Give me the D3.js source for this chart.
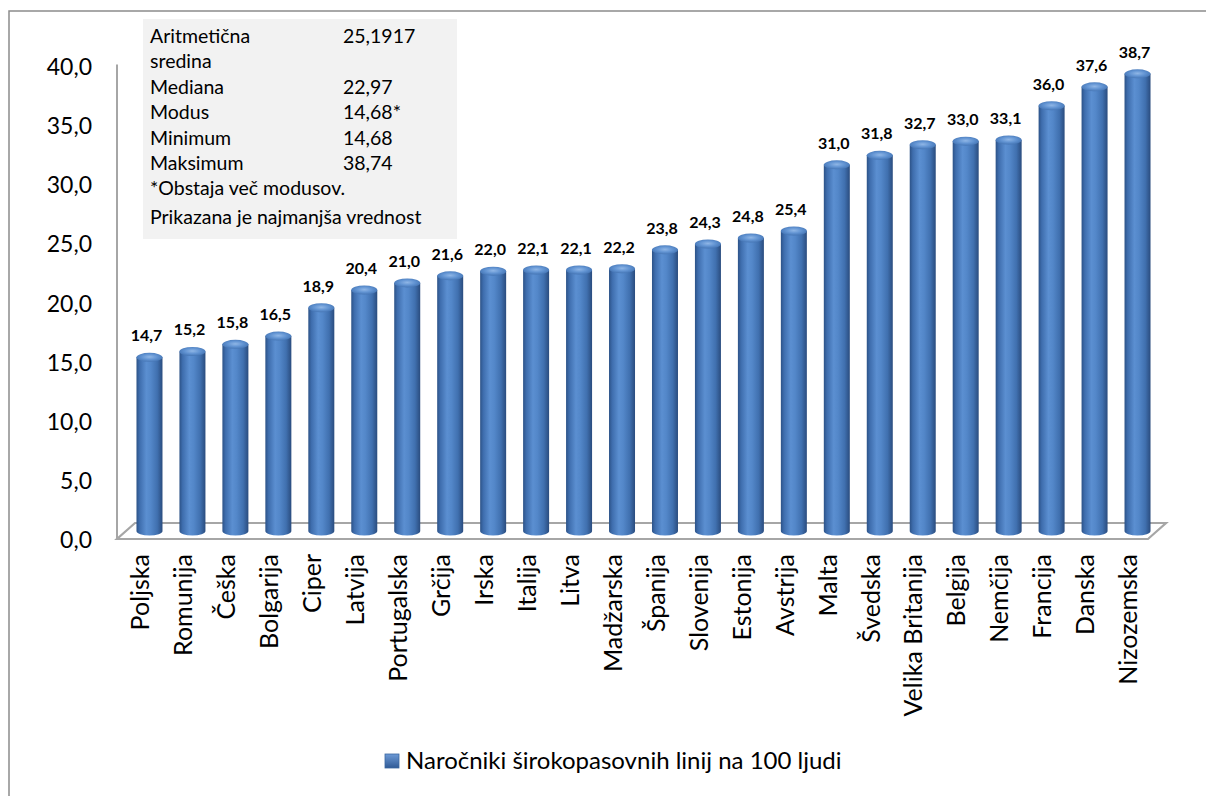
<!DOCTYPE html>
<html><head><meta charset="utf-8">
<script src="https://cdn.jsdelivr.net/npm/d3@7"></script>
<style>body{margin:0;background:#fff;overflow:hidden}svg{display:block}text{font-family:Lato,"Open Sans",sans-serif}</style>
</head><body><svg id="c" width="1206" height="796"></svg>
<script>
const categories = ["Poljska","Romunija","Češka","Bolgarija","Ciper","Latvija","Portugalska","Grčija","Irska","Italija","Litva","Madžarska","Španija","Slovenija","Estonija","Avstrija","Malta","Švedska","Velika Britanija","Belgija","Nemčija","Francija","Danska","Nizozemska"];
const values = [14.7,15.2,15.8,16.5,18.9,20.4,21.0,21.6,22.0,22.1,22.1,22.2,23.8,24.3,24.8,25.4,31.0,31.8,32.7,33.0,33.1,36.0,37.6,38.7];
const yTicks = [0,5,10,15,20,25,30,35,40];
const seriesName = "Naročniki širokopasovnih linij na 100 ljudi";
const statLabels = ["Aritmetična","sredina","Mediana","Modus","Minimum","Maksimum","*Obstaja več modusov.","Prikazana je najmanjša vrednost"];
const statValues = ["25,1917","","22,97","14,68*","14,68","38,74","",""];

const svg = d3.select("#c");
const fmt = d => d.toFixed(1).replace(".", ",");

const dx = 18, dy = -16;
const front = {x0:117, x1:1148, y0:539};
const yFront = d3.scaleLinear().domain([0,40]).range([front.y0, 66.5]);
const yBar = d3.scaleLinear().domain([0,40]).range([front.y0 + dy/2, 66.5 + dy/2]);
const xFront = d3.scaleBand().domain(categories).range([front.x0, front.x1]);
const xBar = d3.scaleBand().domain(categories).range([front.x0 + 11, front.x1 + 11]);

// outer border (left and top edges visible)
svg.append("path").attr("d","M9,800L9,11L1215,11")
  .attr("fill","none").attr("stroke","#8c8c8c").attr("stroke-width",1.5);

// floor
svg.append("path")
  .attr("d", `M${front.x0},${front.y0}L${front.x1},${front.y0}L${front.x1+dx},${front.y0+dy}L${front.x0+dx},${front.y0+dy}Z`)
  .attr("fill","#fff").attr("stroke","#a6a6a6").attr("stroke-width",2.2);

svg.append("line").attr("x1",front.x0).attr("x2",front.x0)
  .attr("y1",yFront(40)-2).attr("y2",front.y0).attr("stroke","#a6a6a6").attr("stroke-width",2);

const yAxis = d3.axisLeft(yFront).tickValues(yTicks).tickFormat(fmt).tickSize(0).tickPadding(0);
const gy = svg.append("g").attr("transform","translate(92,0)").call(yAxis);
gy.select(".domain").remove();
gy.selectAll("text").attr("font-size",23).attr("fill","#000").attr("font-family","Lato").attr("dy","0.36em");

const defs = svg.append("defs");
const g1 = defs.append("linearGradient").attr("id","cyl").attr("x1","0").attr("x2","1").attr("y1","0").attr("y2","0");
[[0,"#2c5287"],[0.12,"#3e6dad"],[0.38,"#5b8fd1"],[0.55,"#5387c9"],[0.8,"#4070af"],[1,"#2a4c7e"]]
  .forEach(([o,c])=>g1.append("stop").attr("offset",o).attr("stop-color",c));
const g2 = defs.append("radialGradient").attr("id","topg").attr("cx","0.5").attr("cy","0.45").attr("r","0.6");
[[0,"#8fb6e6"],[0.5,"#6193d2"],[1,"#4070af"]].forEach(([o,c])=>g2.append("stop").attr("offset",o).attr("stop-color",c));

const w = 26, ry = 4.5;
const bars = svg.append("g").selectAll("g").data(categories).join("g");
bars.each(function(c,i){
  const g = d3.select(this);
  const cx = xBar(c) + xBar.bandwidth()/2;
  const yb = yBar(0), yt = yBar(values[i]);
  g.append("path")
    .attr("d", `M${cx-w/2},${yt}L${cx-w/2},${yb}A${w/2},${ry} 0 0 0 ${cx+w/2},${yb}L${cx+w/2},${yt}Z`)
    .attr("fill","url(#cyl)");
  g.append("ellipse").attr("cx",cx).attr("cy",yt).attr("rx",w/2).attr("ry",ry)
    .attr("fill","url(#topg)");
});

svg.append("g").selectAll("text").data(categories).join("text")
  .attr("x", c => xBar(c) + xBar.bandwidth()/2 - 3)
  .attr("y", (c,i) => yBar(values[i]) - 16)
  .attr("text-anchor","middle").attr("font-weight","bold").attr("font-size",16)
  .attr("fill","#000").text((c,i)=>fmt(values[i]));

svg.append("g").selectAll("text").data(categories).join("text")
  .attr("transform", c => `translate(${xFront(c)+xFront.bandwidth()/2+2},554) rotate(-90)`)
  .attr("text-anchor","end").attr("dy","0.35em").attr("font-size",25).attr("fill","#000")
  .text(c=>c);

svg.append("rect").attr("x",143).attr("y",19).attr("width",314).attr("height",220).attr("fill","#f2f2f2");
const st = svg.append("g");
statLabels.forEach((t,i)=>{
  st.append("text").attr("x",150).attr("y",43 + i*25.4 + (i==7?3:0)).attr("font-size",19.5).attr("fill","#000").text(t);
  if(statValues[i]) st.append("text").attr("x",343).attr("y",43 + i*25.4).attr("font-size",19.5).attr("fill","#000").text(statValues[i]);
});

const lg = svg.append("g");
const lgr = defs.append("linearGradient").attr("id","lgg").attr("x1","0").attr("x2","0").attr("y1","0").attr("y2","1");
[[0,"#6d9ad6"],[1,"#2f5a96"]].forEach(([o,c])=>lgr.append("stop").attr("offset",o).attr("stop-color",c));
lg.append("rect").attr("x",385).attr("y",754).attr("width",14).attr("height",14).attr("fill","url(#lgg)").attr("stroke","#3a66a0").attr("stroke-width",0.8);
lg.append("text").attr("x",406).attr("y",769).attr("font-size",24).attr("fill","#000").text(seriesName);
</script></body></html>
